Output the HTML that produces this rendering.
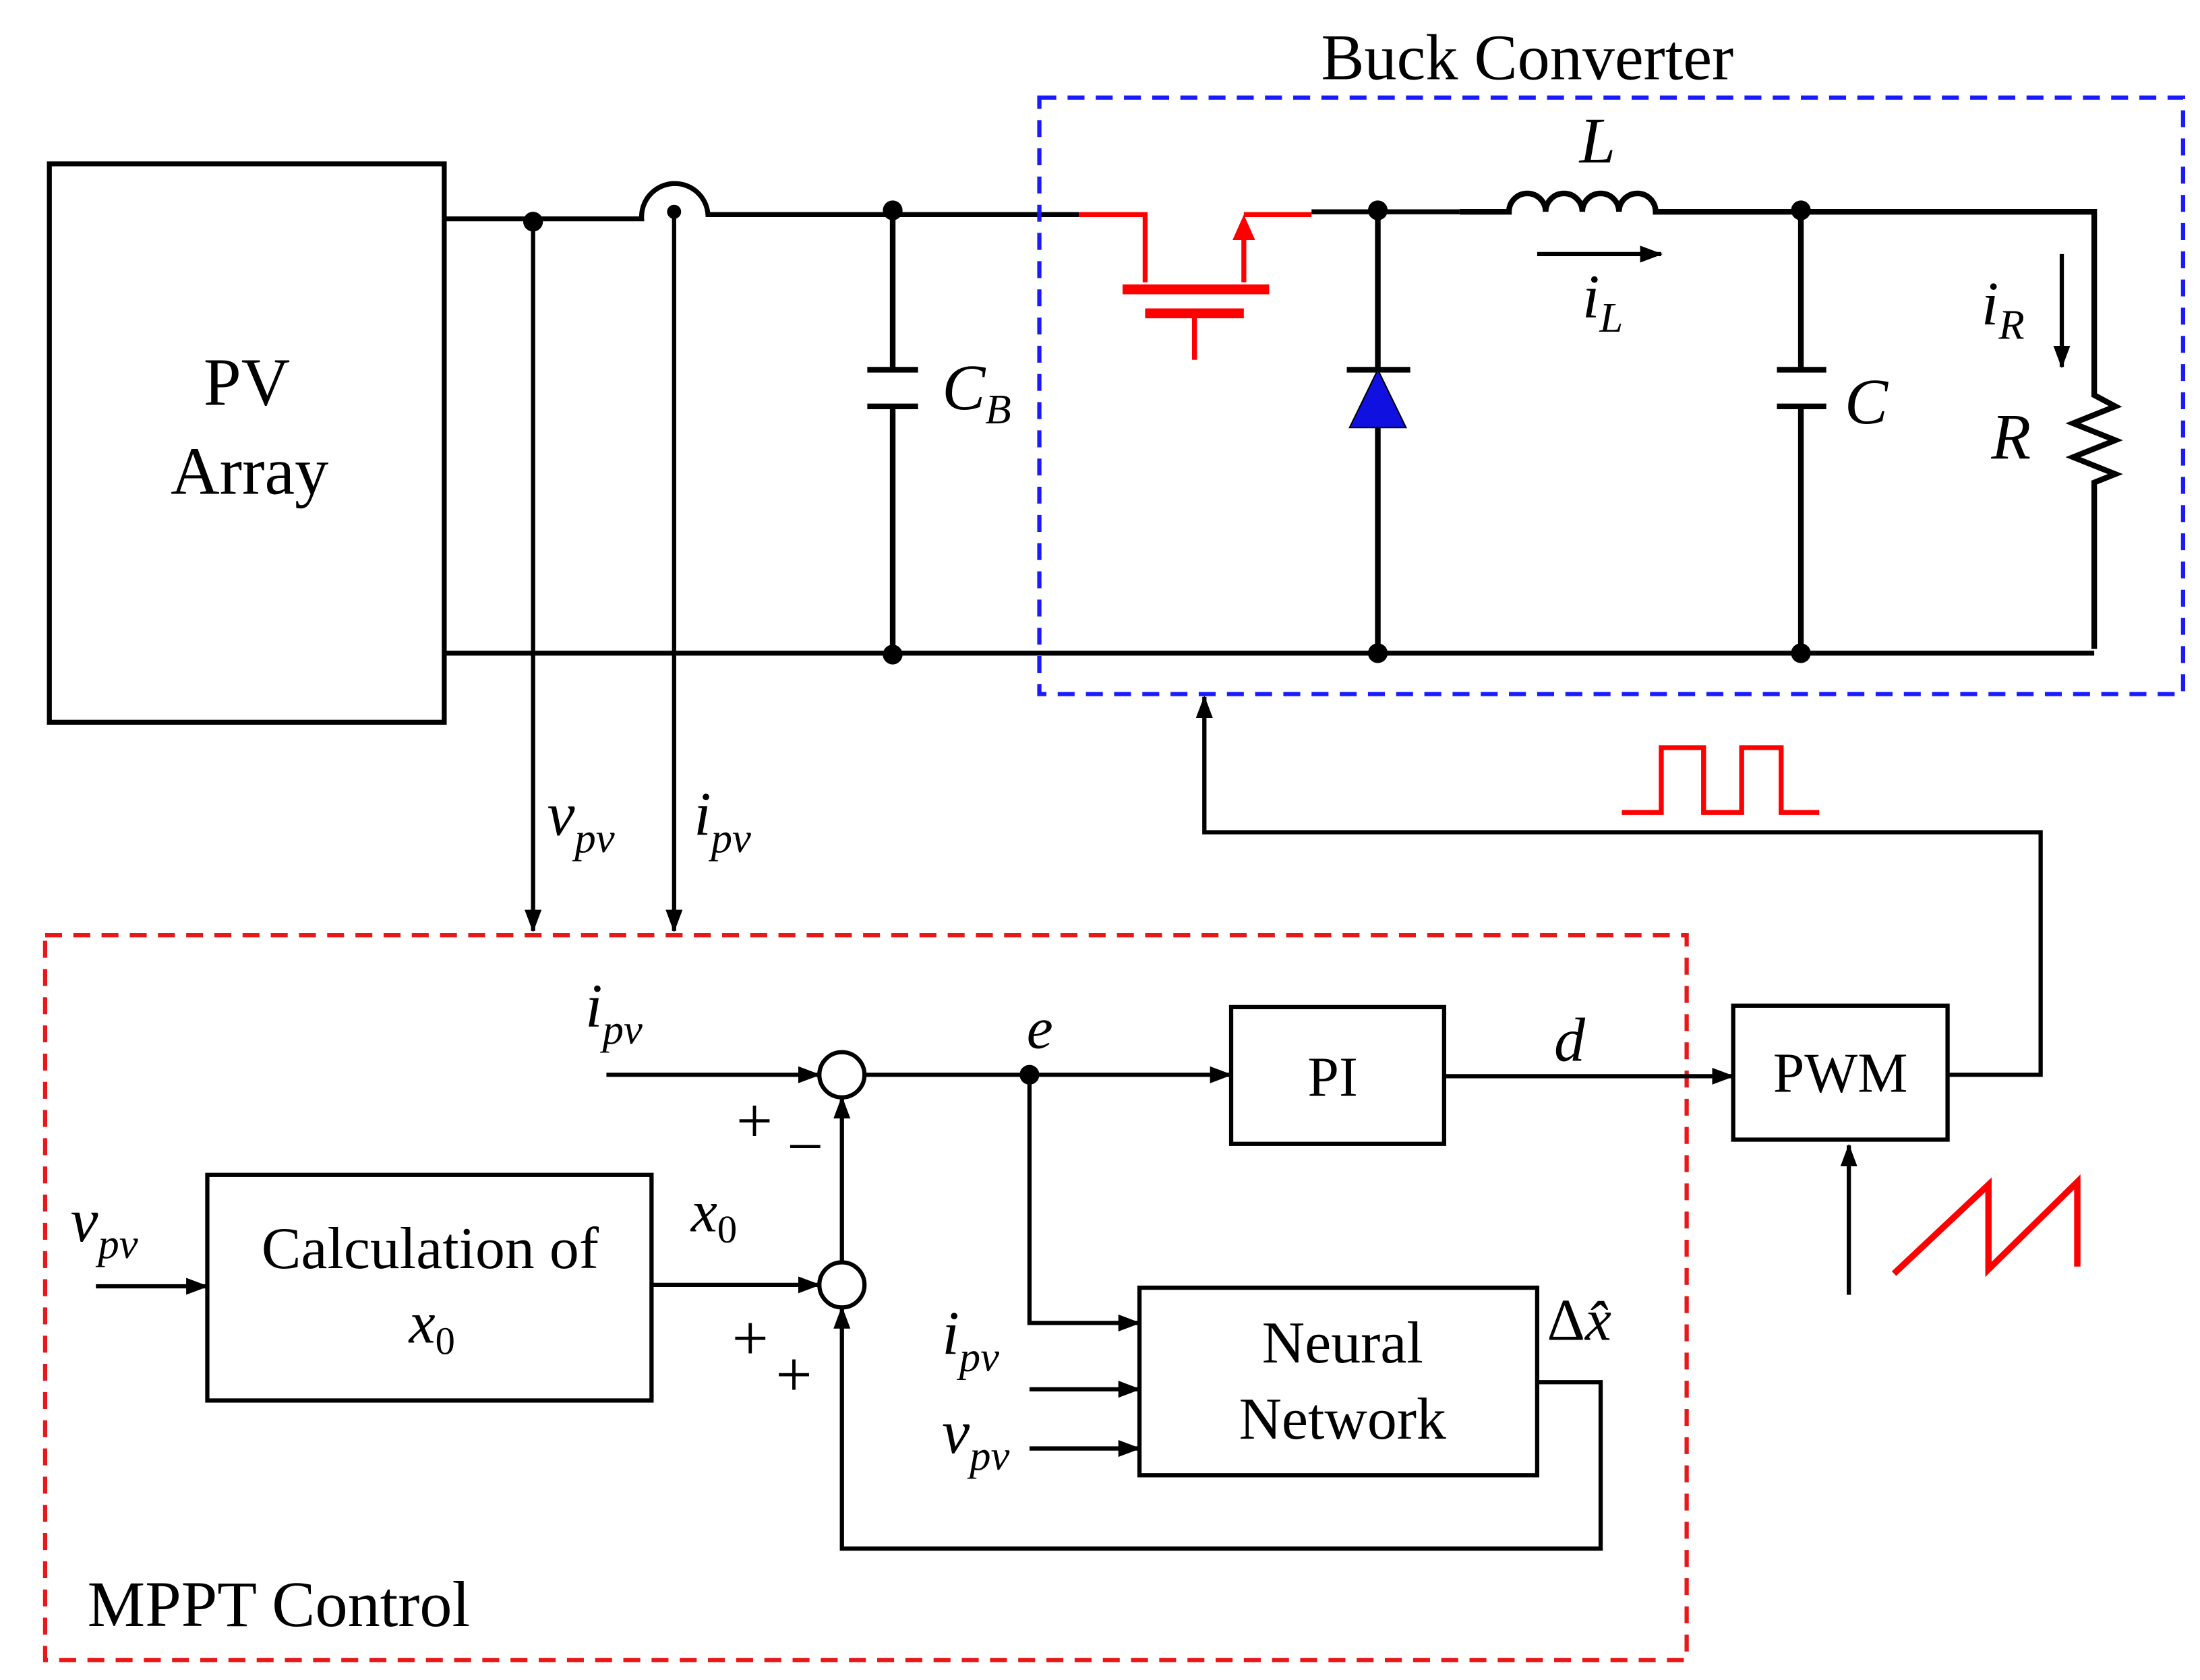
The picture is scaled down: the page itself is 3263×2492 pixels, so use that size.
<!DOCTYPE html>
<html><head><meta charset="utf-8"><style>
html,body{margin:0;padding:0;background:#fff;}
svg{display:block;}
text{font-family:"Liberation Serif",serif;fill:#000;}
.i{font-style:italic;}
</style></head><body>
<svg width="3263" height="2492" viewBox="0 0 1560 1191" xmlns="http://www.w3.org/2000/svg">
<defs>
<marker id="a" markerWidth="16" markerHeight="12" refX="15" refY="6" orient="auto" markerUnits="userSpaceOnUse"><path d="M0,0 L16,6 L0,12 Z" fill="#000"/></marker>
</defs>
<g stroke="#000" stroke-width="3.5" fill="none">
<rect x="35" y="116" width="280" height="396"/>
<path d="M315,155 H455 A23,23 0 0 1 502,152 H765"/>
<path d="M315,463 H1485"/>
<path d="M633,149 V262 M615,262 H651 M615,288 H651 M633,288 V464" stroke-width="4"/>
<path d="M930,150 H1035"/>
<path d="M1035,150 h35 a13,13 0 0 1 26,0 a13,13 0 0 1 26,0 a13,13 0 0 1 26,0 a13,13 0 0 1 26,0 H1485" stroke-width="4"/>
<path d="M977,149 V262 M955,262 H1000 M977,303 V463" stroke-width="4"/>
<path d="M1277,149 V262 M1260,262 H1295 M1260,288 H1295 M1277,288 V463" stroke-width="4"/>
<path d="M1485,148 V280 l15,8 l-30,12 l30,12 l-30,12 l30,12 l-15,6 V460" stroke-width="4"/>
</g>
<polygon points="977,262 957,303 997,303" fill="#1010e0" stroke="#000" stroke-width="1"/>
<g fill="#000">
<circle cx="378" cy="157" r="7"/><circle cx="478" cy="150" r="5"/><circle cx="633" cy="149" r="7"/>
<circle cx="633" cy="464" r="7"/><circle cx="977" cy="149" r="7"/><circle cx="977" cy="463" r="7"/>
<circle cx="1277" cy="149" r="7"/><circle cx="1277" cy="463" r="7"/><circle cx="730" cy="762" r="7"/>
</g>
<g stroke="red" stroke-width="3.5" fill="none">
<path d="M765,152 H812 V200"/>
<path d="M796,205 H900" stroke-width="7"/>
<path d="M812,222 H882" stroke-width="7"/>
<path d="M847,222 V255"/>
<path d="M882,200 V168"/>
<path d="M882,152 H930"/>
</g>
<polygon points="882,152 874,170 890,170" fill="red"/>
<rect x="737" y="69" width="811" height="423" fill="none" stroke="#1a1aff" stroke-width="3" stroke-dasharray="12,8"/>
<rect x="32" y="663" width="1164" height="514" fill="none" stroke="#e81818" stroke-width="3" stroke-dasharray="12,8"/>
<g stroke="#000" stroke-width="3" fill="none">
<path d="M378,157 V660" marker-end="url(#a)"/>
<path d="M478,150 V660" marker-end="url(#a)"/>
<path d="M1382,762 H1447 V590 H854 V494" marker-end="url(#a)"/>
<path d="M1311,918 V812" marker-end="url(#a)"/>
<path d="M1090,180 H1178" marker-end="url(#a)"/>
<path d="M1462,180 V260" marker-end="url(#a)"/>
<path d="M430,762 H581" marker-end="url(#a)"/>
<path d="M613,762 H873" marker-end="url(#a)"/>
<path d="M1024,763 H1229" marker-end="url(#a)"/>
<path d="M730,762 V938 H808" marker-end="url(#a)"/>
<path d="M730,985 H808" marker-end="url(#a)"/>
<path d="M730,1027 H808" marker-end="url(#a)"/>
<path d="M68,912 H147" marker-end="url(#a)"/>
<path d="M462,911 H581" marker-end="url(#a)"/>
<path d="M597,895 V778" marker-end="url(#a)"/>
<path d="M1090,980 H1135 V1098 H597 V927" marker-end="url(#a)"/>
<circle cx="597" cy="762" r="16"/><circle cx="597" cy="911" r="16"/>
<rect x="873" y="714" width="151" height="97"/>
<rect x="1229" y="713" width="152" height="95"/>
<rect x="147" y="833" width="315" height="160"/>
<rect x="808" y="913" width="282" height="133"/>
</g>
<path d="M1150,576 H1178 V530 H1208 V576 H1235 V530 H1263 V576 H1290" fill="none" stroke="red" stroke-width="3.5"/>
<path d="M1343,903 L1410,840 V900 L1473,838 V898" fill="none" stroke="red" stroke-width="4.5"/>
<text x="175" y="287" font-size="48" text-anchor="middle">PV</text>
<text x="177" y="350" font-size="48" text-anchor="middle">Array</text>
<text x="1083" y="56" font-size="46" text-anchor="middle">Buck Converter</text>
<text x="62" y="1153" font-size="46">MPPT Control</text>
<text x="945" y="777" font-size="40" text-anchor="middle">PI</text>
<text x="1305" y="774" font-size="40" text-anchor="middle">PWM</text>
<text x="305" y="899" font-size="42" text-anchor="middle">Calculation of</text>
<text x="290" y="952" font-size="42" class="i">x<tspan font-size="28" font-style="normal" dy="8">0</tspan></text>
<text x="952" y="966" font-size="42" text-anchor="middle">Neural</text>
<text x="952" y="1020" font-size="42" text-anchor="middle">Network</text>
<text x="1097" y="950" font-size="42">Δ<tspan class="i">x̂</tspan></text>
<text x="490" y="873" font-size="42" class="i">x<tspan font-size="28" font-style="normal" dy="8">0</tspan></text>
<text x="668" y="290" font-size="46" class="i">C<tspan font-size="30" dy="10">B</tspan></text>
<text x="1308" y="300" font-size="46" class="i">C</text>
<text x="1120" y="115" font-size="46" class="i">L</text>
<text x="1122" y="225" font-size="44" class="i">i<tspan font-size="30" dy="10">L</tspan></text>
<text x="1405" y="230" font-size="44" class="i">i<tspan font-size="30" dy="10">R</tspan></text>
<text x="1412" y="325" font-size="46" class="i">R</text>
<text x="388" y="592" font-size="44" class="i">v<tspan font-size="30" dy="12">pv</tspan></text>
<text x="492" y="592" font-size="44" class="i">i<tspan font-size="30" dy="12">pv</tspan></text>
<text x="415" y="728" font-size="44" class="i">i<tspan font-size="30" dy="12">pv</tspan></text>
<text x="50" y="880" font-size="44" class="i">v<tspan font-size="30" dy="12">pv</tspan></text>
<text x="668" y="960" font-size="44" class="i">i<tspan font-size="30" dy="12">pv</tspan></text>
<text x="668" y="1030" font-size="44" class="i">v<tspan font-size="30" dy="12">pv</tspan></text>
<text x="728" y="743" font-size="42" class="i">e</text>
<text x="1102" y="752" font-size="44" class="i">d</text>
<text x="522" y="810" font-size="46">+</text>
<text x="558" y="828" font-size="46">−</text>
<text x="519" y="964" font-size="46">+</text>
<text x="550" y="990" font-size="46">+</text>
</svg>
</body></html>
